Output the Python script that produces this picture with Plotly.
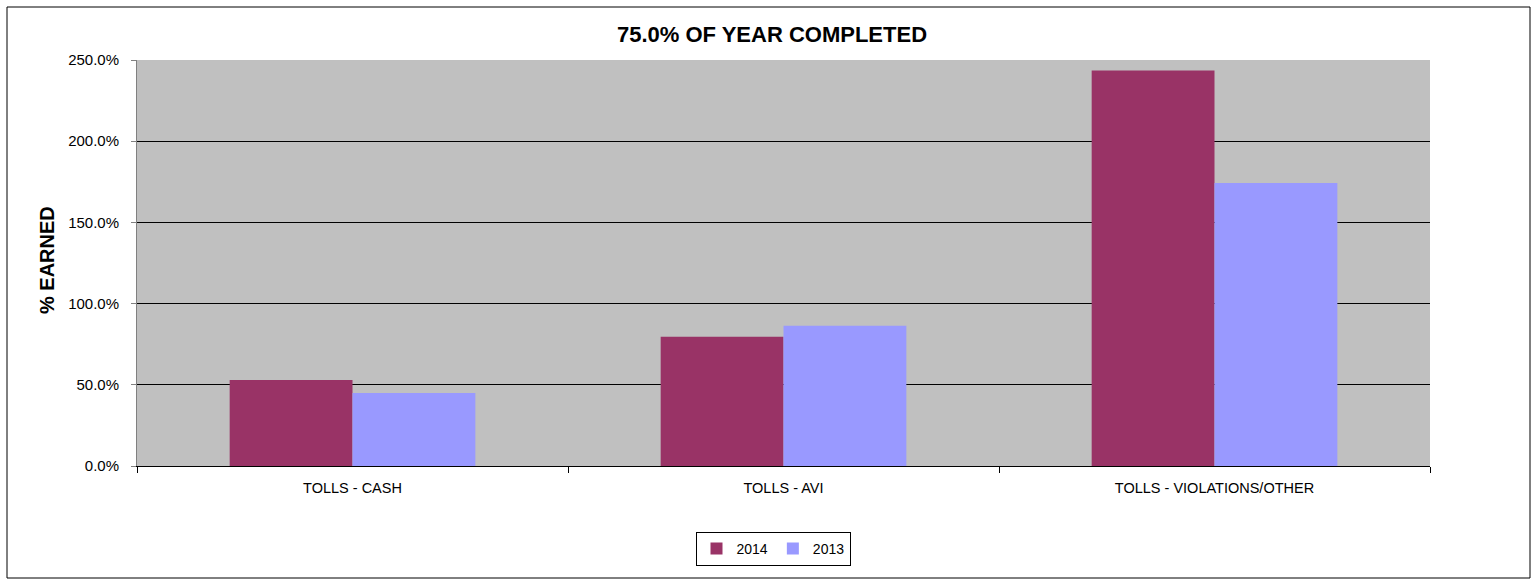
import plotly.graph_objects as go

# Share of annual budget earned, by toll revenue category
categories = ["TOLLS - CASH", "TOLLS - AVI", "TOLLS - VIOLATIONS/OTHER"]
earned_2014 = [53.0, 79.6, 243.6]
earned_2013 = [45.0, 86.4, 174.3]
y_ticks = [0, 50, 100, 150, 200, 250]
y_tick_labels = [f"{v:.1f}%" for v in y_ticks]

W, H = 1533, 581
L, R, T, B = 137, 103, 60, 115
pw, ph = W - L - R, H - T - B


def px_x(p):
    return (p - L) / pw


def px_y(p):
    return (H - B - p) / ph


fig = go.Figure()
fig.add_trace(go.Bar(name="2014", x=categories, y=earned_2014,
                     marker=dict(color="#993366", line=dict(width=0))))
fig.add_trace(go.Bar(name="2013", x=categories, y=earned_2013,
                     marker=dict(color="#9999FF", line=dict(width=0))))

fig.update_layout(
    width=W, height=H,
    margin=dict(l=L, r=R, t=T, b=B, pad=0),
    paper_bgcolor="white",
    plot_bgcolor="#C0C0C0",
    barmode="group",
    bargap=0.43,
    bargroupgap=0,
    font=dict(family="Arial", color="black"),
    title=dict(text="<b>75.0% OF YEAR COMPLETED</b>",
               font=dict(size=22, family="Arial", color="black"),
               x=px_x(772), xref="paper", xanchor="center",
               y=1 - 34 / H, yref="container", yanchor="middle"),
    showlegend=True,
    legend=dict(orientation="h", x=px_x(773), xanchor="center",
                y=px_y(532), yanchor="top",
                bordercolor="black", borderwidth=1,
                font=dict(size=14, family="Arial"),
                bgcolor="white"),
    xaxis=dict(
        showgrid=False, zeroline=False,
        showline=True, linecolor="black", linewidth=1,
        ticks="outside", tickson="boundaries", ticklen=6,
        tickcolor="black",
        ticklabelstandoff=9,
        tickfont=dict(size=14.5, family="Arial", color="black"),
    ),
    yaxis=dict(
        range=[0, 250],
        tickvals=y_ticks,
        ticktext=y_tick_labels,
        showgrid=True, gridcolor="black", gridwidth=1,
        zeroline=False,
        showline=True, linecolor="#808080", linewidth=1,
        ticks="outside", ticklen=5, tickcolor="#808080",
        ticklabelstandoff=9,
        tickfont=dict(size=15, family="Arial", color="black"),
    ),
    annotations=[dict(
        text="<b>% EARNED</b>", textangle=-90,
        xref="paper", yref="paper",
        x=px_x(47), y=px_y(260),
        xanchor="center", yanchor="middle",
        showarrow=False,
        font=dict(size=20, family="Arial", color="black"),
    )],
    shapes=[dict(
        type="rect", xref="paper", yref="paper",
        x0=px_x(7), x1=px_x(1530), y0=px_y(578), y1=px_y(7),
        line=dict(color="black", width=1), fillcolor="rgba(0,0,0,0)",
        layer="below",
    )],
)

fig.write_html("out.html")
